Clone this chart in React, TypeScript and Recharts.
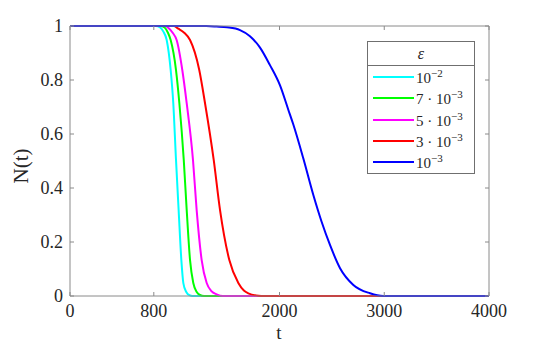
import React from 'react';
import { LineChart, Line, XAxis, YAxis, Legend } from 'recharts';

// ---- data ----
const xTicks = [0, 800, 2000, 3000, 4000];
const yTicks = [0, 0.2, 0.4, 0.6, 0.8, 1];
const yTickLabels = ['0', '0.2', '0.4', '0.6', '0.8', '1'];

const seriesKeys = ['e1', 'e7', 'e5', 'e3', 'e0'];
const seriesColors = ['#00FFFF', '#00FF00', '#FF00FF', '#FF0000', '#0000FF'];
const legendMantissa = ['', '7', '5', '3', ''];
const legendExponent = ['\u22122', '\u22123', '\u22123', '\u22123', '\u22123'];

const tCyan = [0, 820, 860, 890, 923, 961, 986, 1012, 1037, 1063, 1082, 1110, 1140, 1170, 4000];
const nCyan = [1, 1, 0.995, 0.98, 0.948, 0.837, 0.714, 0.504, 0.319, 0.133, 0.048, 0.015, 0.003, 0, 0];

const tGreen = [0, 870, 907, 935, 961, 1012, 1044, 1086, 1114, 1146, 1177, 1210, 1240, 1280, 4000];
const nGreen = [1, 1, 0.993, 0.975, 0.948, 0.837, 0.714, 0.504, 0.319, 0.133, 0.048, 0.015, 0.004, 0, 0];

const tMagenta = [0, 905, 948, 980, 1018, 1072, 1114, 1174, 1209, 1257, 1305, 1350, 1400, 1460, 4000];
const nMagenta = [1, 1, 0.99, 0.975, 0.948, 0.837, 0.714, 0.504, 0.319, 0.133, 0.048, 0.018, 0.006, 0, 0];

const tRed = [0, 990, 1034, 1090, 1146, 1234, 1289, 1372, 1432, 1521, 1607, 1660, 1702, 1800, 1850, 4000];
const nRed = [1, 1, 0.99, 0.975, 0.948, 0.837, 0.714, 0.504, 0.319, 0.133, 0.048, 0.02, 0.01, 0.001, 0, 0];

const tBlue = [0, 1300, 1400, 1500, 1623, 1718, 1814, 1909, 2005, 2084, 2132, 2227, 2323, 2402, 2482, 2578, 2705, 2864, 2990, 4000];
const nBlue = [1, 1, 0.998, 0.995, 0.985, 0.962, 0.92, 0.855, 0.78, 0.69, 0.635, 0.51, 0.374, 0.275, 0.189, 0.103, 0.041, 0.01, 0, 0];

const seriesT = [tCyan, tGreen, tMagenta, tRed, tBlue];
const seriesN = [nCyan, nGreen, nMagenta, nRed, nBlue];

const seriesData = seriesT.map((ts, i) => ts.map((t, j) => ({ t, n: seriesN[i][j] })));

// ---- styles ----
const AXIS = '#8a8a8a';
const TEXT = '#262626';
const FONT = 'Liberation Serif';
const TICK = 4;

const BottomTick = (props: any) => {
  const { x, y, payload } = props;
  return (
    <g>
      <line x1={x} y1={y} x2={x} y2={y - TICK} stroke={AXIS} strokeWidth={1} />
      <text x={x} y={y + 21} textAnchor="middle" fill={TEXT} style={{ fontFamily: FONT, fontSize: 18 }}>
        {payload.value}
      </text>
    </g>
  );
};

const TopTick = (props: any) => {
  const { x, y } = props;
  return <line x1={x} y1={y} x2={x} y2={y + TICK} stroke={AXIS} strokeWidth={1} />;
};

const LeftTick = (props: any) => {
  const { x, y, payload } = props;
  return (
    <g>
      <line x1={x} y1={y} x2={x + TICK} y2={y} stroke={AXIS} strokeWidth={1} />
      <text x={x - 7} y={y + 6} textAnchor="end" fill={TEXT} style={{ fontFamily: FONT, fontSize: 18 }}>
        {yTickLabels[yTicks.indexOf(payload.value)] ?? String(payload.value)}
      </text>
    </g>
  );
};

const RightTick = (props: any) => {
  const { x, y } = props;
  return <line x1={x} y1={y} x2={x - TICK} y2={y} stroke={AXIS} strokeWidth={1} />;
};

const LegendBox = () => (
  <div
    style={{
      position: 'relative',
      width: 106,
      height: 131,
      border: '1px solid #6f6f6f',
      background: '#fff',
      fontFamily: FONT,
      color: TEXT,
    }}
  >
    <div
      style={{
        height: 23,
        lineHeight: '23px',
        textAlign: 'center',
        fontStyle: 'italic',
        fontSize: 16,
        borderBottom: '1px solid #6f6f6f',
      }}
    >
      ε
    </div>
    {seriesKeys.map((k, i) => {
      const center = [77, 98, 120, 141, 162][i] - 42;
      return (
        <div key={k} style={{ position: 'absolute', left: 0, top: center - 10, height: 20, width: 106 }}>
          <div
            style={{
              position: 'absolute',
              left: 5,
              top: 9,
              width: 41,
              height: 2,
              background: seriesColors[i],
            }}
          />
          <div
            style={{
              position: 'absolute',
              left: 48,
              top: 1,
              height: 20,
              lineHeight: '20px',
              fontSize: 15,
              whiteSpace: 'nowrap',
            }}
          >
            {legendMantissa[i] ? legendMantissa[i] + ' \u00B7 ' : ''}10
            <span style={{ fontSize: 11, position: 'relative', top: -6 }}>{legendExponent[i]}</span>
          </div>
        </div>
      );
    })}
  </div>
);

export default function App() {
  return (
    <div style={{ position: 'absolute', left: 0, top: 0, width: 540, height: 345, background: '#fff' }}>
      <LineChart width={540} height={345} margin={{ top: 25, right: 50, bottom: 4, left: 0 }}>
        <XAxis
          dataKey="t"
          type="number"
          domain={[0, 4000]}
          ticks={xTicks}
          height={45}
          tickSize={0}
          tickMargin={0}
          tickLine={false}
          tick={<BottomTick />}
          axisLine={{ stroke: AXIS, strokeWidth: 1 }}
          label={{
            content: () => (
              <text x={279} y={339} textAnchor="middle" fill={TEXT} style={{ fontFamily: FONT, fontSize: 19 }}>
                t
              </text>
            ),
          }}
        />
        <XAxis
          xAxisId="top"
          orientation="top"
          dataKey="t"
          type="number"
          domain={[0, 4000]}
          allowDataOverflow
          ticks={xTicks}
          height={1}
          tickSize={0}
          tickMargin={0}
          tickLine={false}
          tick={<TopTick />}
          axisLine={{ stroke: AXIS, strokeWidth: 1 }}
        />
        <YAxis
          type="number"
          domain={[0, 1]}
          ticks={yTicks}
          width={70}
          tickSize={0}
          tickMargin={0}
          tickLine={false}
          tick={<LeftTick />}
          axisLine={{ stroke: AXIS, strokeWidth: 1 }}
          label={{
            content: () => (
              <text
                x={21}
                y={166}
                transform="rotate(-90 21 166)"
                textAnchor="middle"
                dominantBaseline="central"
                fill={TEXT}
                style={{ fontFamily: FONT, fontSize: 21 }}
              >
                N(t)
              </text>
            ),
          }}
        />
        <YAxis
          yAxisId="right"
          orientation="right"
          type="number"
          domain={[0, 1]}
          allowDataOverflow
          ticks={yTicks}
          width={1}
          tickSize={0}
          tickMargin={0}
          tickLine={false}
          tick={<RightTick />}
          axisLine={{ stroke: AXIS, strokeWidth: 1 }}
        />
        {seriesKeys.map((k, i) => (
          <Line
            key={k}
            data={seriesData[i]}
            dataKey="n"
            name={k}
            type="monotone"
            stroke={seriesColors[i]}
            strokeWidth={2}
            dot={false}
            activeDot={false}
            isAnimationActive={false}
          />
        ))}
        <Legend
          layout="vertical"
          align="center"
          verticalAlign="middle"
          wrapperStyle={{ position: 'absolute', left: 367, top: 41, width: 108, height: 133 }}
          content={() => <LegendBox />}
        />
      </LineChart>
    </div>
  );
}
